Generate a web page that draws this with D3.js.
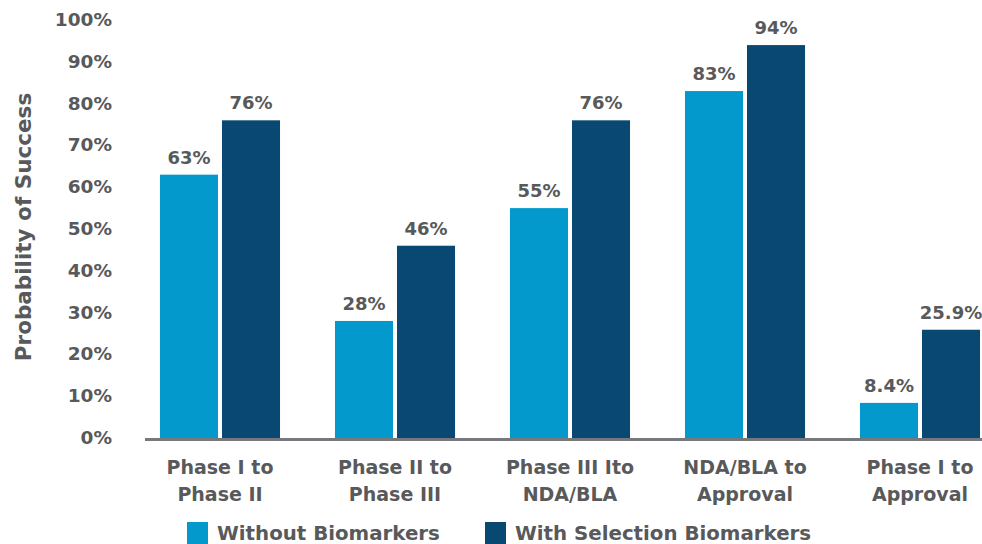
<!DOCTYPE html>
<html>
<head>
<meta charset="utf-8">
<script src="https://cdn.jsdelivr.net/npm/d3@7"></script>
<style>
  body { margin: 0; background: #fff; }
  text { font-family: "DejaVu Sans", sans-serif; font-weight: bold; fill: #58595b; }
</style>
</head>
<body>
<div id="chart"></div>
<script>
var categories = [
    ["Phase I to", "Phase II"],
    ["Phase II to", "Phase III"],
    ["Phase III Ito", "NDA/BLA"],
    ["NDA/BLA to", "Approval"],
    ["Phase I to", "Approval"]
];
var seriesNames = ["Without Biomarkers", "With Selection Biomarkers"];
var withoutBiomarkers = [63, 28, 55, 83, 8.4];
var withBiomarkers = [76, 46, 76, 94, 25.9];
var valueLabels = [["63%", "28%", "55%", "83%", "8.4%"], ["76%", "46%", "76%", "94%", "25.9%"]];
var yTicks = [0, 10, 20, 30, 40, 50, 60, 70, 80, 90, 100];
var colors = ["#0399cc", "#084872"];

function init(){
    var w = 982;
    var h = 544;
    var series = [withoutBiomarkers, withBiomarkers];

    var svg = d3.select("#chart")
                .append("svg")
                .attr("width", w)
                .attr("height", h);

    var x0 = d3.scaleBand()
               .domain(d3.range(categories.length))
               .range([132.5, 1007.5])
               .paddingInner(0.314)
               .paddingOuter(0.157);

    var x1 = d3.scaleBand()
               .domain([0, 1])
               .range([0, x0.bandwidth()])
               .paddingInner(0.0645);

    var yScale = d3.scaleLinear().domain([0, 100]).range([438, 20]);

    // y axis labels, no line
    var yAxis = d3.axisLeft(yScale)
                  .tickValues(yTicks)
                  .tickSize(0)
                  .tickPadding(0)
                  .tickFormat(function(d){ return d + "%"; });

    var gy = svg.append("g")
        .attr("transform", "translate(112,-1)")
        .call(yAxis);
    gy.select(".domain").remove();
    gy.selectAll("text")
      .attr("font-size", 18.5)
      .attr("font-family", null)
      .attr("fill", null)
      .attr("dy", "0.35em");

    svg.append("text")
       .attr("transform", "translate(23,227) rotate(-90)")
       .attr("text-anchor", "middle")
       .attr("font-size", 21.5)
       .attr("dy", "0.35em")
       .text("Probability of Success");

    var groups = svg.selectAll("g.group")
        .data(categories)
        .enter()
        .append("g")
        .attr("class", "group")
        .attr("transform", function(d, i){ return "translate(" + x0(i) + ",0)"; });

    groups.selectAll("rect")
        .data(function(d, i){ return [0, 1].map(function(s){ return {s: s, v: series[s][i], i: i}; }); })
        .enter()
        .append("rect")
        .attr("x", function(d){ return x1(d.s); })
        .attr("y", function(d){ return yScale(d.v); })
        .attr("width", x1.bandwidth())
        .attr("height", function(d){ return yScale(0) - yScale(d.v); })
        .attr("fill", function(d){ return colors[d.s]; });

    groups.selectAll("text.val")
        .data(function(d, i){ return [0, 1].map(function(s){ return {s: s, v: series[s][i], i: i}; }); })
        .enter()
        .append("text")
        .attr("class", "val")
        .attr("x", function(d){ return x1(d.s) + x1.bandwidth() / 2; })
        .attr("y", function(d){ return yScale(d.v) - 11; })
        .attr("text-anchor", "middle")
        .attr("font-size", 18)
        .text(function(d){ return valueLabels[d.s][d.i]; });

    // baseline
    svg.append("line")
       .attr("x1", 145)
       .attr("x2", w)
       .attr("y1", 439.5)
       .attr("y2", 439.5)
       .attr("stroke", "#77787b")
       .attr("stroke-width", 3);

    // category labels
    groups.selectAll("text.cat")
        .data(function(d){ return d; })
        .enter()
        .append("text")
        .attr("class", "cat")
        .attr("x", x0.bandwidth() / 2)
        .attr("y", function(d, j){ return 474 + j * 27; })
        .attr("text-anchor", "middle")
        .attr("font-size", 19)
        .text(function(d){ return d; });

    // legend
    var legendX = [187, 485];
    var legend = svg.selectAll("g.legend")
        .data(seriesNames)
        .enter()
        .append("g")
        .attr("class", "legend")
        .attr("transform", function(d, i){ return "translate(" + legendX[i] + ",522)"; });

    legend.append("rect")
          .attr("width", 21)
          .attr("height", 22)
          .attr("fill", function(d, i){ return colors[i]; });

    legend.append("text")
          .attr("x", 30)
          .attr("y", 18)
          .attr("font-size", 19.8)
          .text(function(d){ return d; });
}
window.onload = init;
</script>
</body>
</html>
